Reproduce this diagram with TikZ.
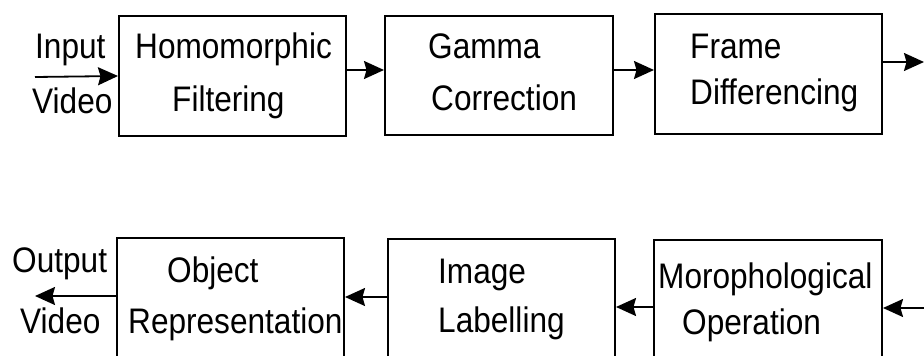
\documentclass[tikz,border=0pt]{standalone}
\usepackage{fontspec}
\setmainfont{Liberation Sans}[FakeStretch=0.89]
\usetikzlibrary{arrows.meta}
\begin{document}
\begin{tikzpicture}[x=1pt,y=-1pt,
  box/.style={draw, line width=2pt, rectangle, anchor=north west, inner sep=0pt, minimum width=227pt},
  lbl/.style={anchor=base west, inner sep=0pt, font=\fontsize{35.5}{42}\selectfont},
  arr/.style={line width=1.8pt, -{Stealth[length=20pt,width=18pt,inset=2.5pt]}}]
\useasboundingbox (0,0) rectangle (924,356);
% boxes
\node[box, minimum height=120pt] (b1) at (118,15) {};
\node[box, minimum width=228pt, minimum height=119pt] (b2) at (384,15) {};
\node[box, minimum height=120pt] (b3) at (654,13) {};
\node[box, minimum height=143pt] (b4) at (116,237) {};
\node[box, minimum height=142pt] (b5) at (387,238) {};
\node[box, minimum width=228pt, minimum height=141pt] (b6) at (653,239) {};
% texts
\node[lbl] (t1a) at (135,58) {Homomorphic};
\node[lbl] (t1b) at (172,111) {Filtering};
\node[lbl] (t2a) at (428,58) {Gamma};
\node[lbl] (t2b) at (431,110) {Correction};
\node[lbl] (t3a) at (690,58) {Frame};
\node[lbl] (t3b) at (690,104) {Differencing};
\node[lbl] (tin1) at (35,58) {Input};
\node[lbl] (tin2) at (32,113) {Video};
\node[lbl] (tout1) at (12,272) {Output};
\node[lbl] (tout2) at (20,333) {Video};
\node[lbl] (t4a) at (167,282) {Object};
\node[lbl] (t4b) at (128,333) {Representation};
\node[lbl] (t5a) at (438,283) {Image};
\node[lbl] (t5b) at (438,332) {Labelling};
\node[lbl] (t6a) at (658,288) {Morophological};
\node[lbl] (t6b) at (682,334) {Operation};
% level coordinates
\coordinate (inA) at (35,77);
\coordinate (outR) at (924,62);
\coordinate (inR) at (924,308);
\coordinate (outL) at (35,296);
\coordinate (y70) at (0,70);
\coordinate (y307) at (0,307);
\coordinate (y297) at (0,297);
% connectors
\draw[arr] (inA) -- (b1.west);
\draw[arr] (b1.east |- y70) -- (b2.west |- y70);
\draw[arr] (b2.east |- y70) -- (b3.west |- y70);
\draw[arr] (b3.east |- outR) -- (outR);
\draw[arr] (inR) -- (b6.east |- inR);
\draw[arr] (b6.west |- y307) -- (b5.east |- y307);
\draw[arr] (b5.west |- y297) -- (b4.east |- y297);
\draw[arr] (b4.west |- outL) -- (outL);
\end{tikzpicture}
\end{document}
